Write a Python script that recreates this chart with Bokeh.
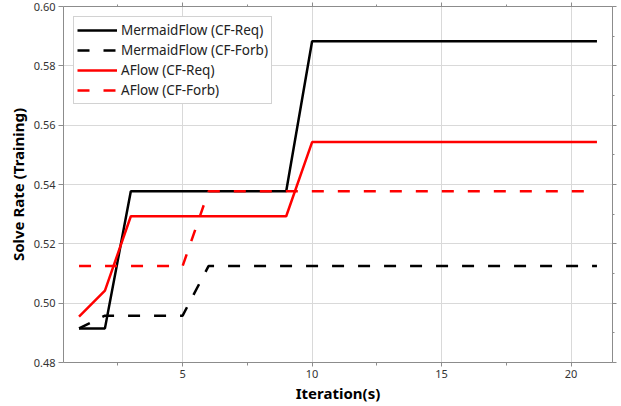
from bokeh.plotting import figure
from bokeh.models import (LinearAxis, SingleIntervalTicker, NumeralTickFormatter,
                          Range1d, Legend, LegendItem, CustomLabelingPolicy)
from bokeh.embed import file_html
from bokeh.resources import INLINE

# ---- data ----
mf_req_x = [1, 2, 3, 9, 10, 21]
mf_req_y = [0.4915, 0.4915, 0.5377, 0.5377, 0.5883, 0.5883]

mf_forb_x = [1, 2, 5, 6, 21]
mf_forb_y = [0.4915, 0.4958, 0.4958, 0.5125, 0.5125]

af_req_x = [1, 2, 3, 9, 10, 21]
af_req_y = [0.4955, 0.5042, 0.5293, 0.5293, 0.5543, 0.5543]

af_forb_x = [1, 5, 6, 21]
af_forb_y = [0.5125, 0.5125, 0.5377, 0.5377]

series_names = ["MermaidFlow (CF-Req)", "MermaidFlow (CF-Forb)",
                "AFlow (CF-Req)", "AFlow (CF-Forb)"]

x_label = "Iteration(s)"
y_label = "Solve Rate (Training)"

FONT = "Noto Sans"
AXIS_COL = "#8c8c8c"
GRID_COL = "#d9d9d9"

p = figure(frame_width=549, frame_height=356, output_backend="svg",
           toolbar_location=None,
           x_range=Range1d(0.4, 21.6), y_range=Range1d(0.48, 0.60),
           min_border_left=63, min_border_right=5, min_border_top=6,
           min_border_bottom=43)
p.outline_line_color = None
p.background_fill_color = "white"
p.border_fill_color = "white"

xt = SingleIntervalTicker(interval=5, num_minor_ticks=2)
yt = SingleIntervalTicker(interval=0.02, num_minor_ticks=2)

xa = p.xaxis[0]
xa.ticker = xt
xa.formatter = NumeralTickFormatter(format="0")
ya = p.yaxis[0]
ya.ticker = yt
ya.formatter = NumeralTickFormatter(format="0.00")

for ax in (xa, ya):
    ax.axis_line_color = AXIS_COL
    ax.major_tick_line_color = AXIS_COL
    ax.minor_tick_line_color = AXIS_COL
    ax.major_tick_in = 0
    ax.minor_tick_in = 0
    ax.major_label_text_font = FONT
    ax.major_label_text_font_size = "11px"
    ax.major_label_text_color = "#333333"
    ax.axis_label_text_font = FONT
    ax.axis_label_text_font_size = "15px"
    ax.axis_label_text_font_style = "bold"
    ax.axis_label_text_color = "black"

xa.axis_label = x_label
xa.major_tick_out = 4
xa.minor_tick_out = 3
xa.major_label_standoff = 3
xa.axis_label_standoff = 2

ya.axis_label = y_label
ya.major_tick_out = 5
ya.minor_tick_out = 0
ya.major_label_standoff = 3
ya.axis_label_standoff = 3

# mirrored axes (ticks only, no labels)
no_labels = CustomLabelingPolicy(code="""
for (const i of indices) { indices.unset(i) }
return indices
""")
top = LinearAxis(ticker=SingleIntervalTicker(interval=5, num_minor_ticks=2))
right = LinearAxis(ticker=SingleIntervalTicker(interval=0.02, num_minor_ticks=2))
for ax in (top, right):
    ax.axis_line_color = AXIS_COL
    ax.major_tick_line_color = AXIS_COL
    ax.minor_tick_line_color = AXIS_COL
    ax.major_tick_in = 0
    ax.minor_tick_in = 0
    ax.major_tick_out = 4
    ax.minor_tick_out = 2
    ax.major_label_policy = no_labels
    ax.major_label_text_font_size = "0px"
    ax.major_label_standoff = 0
p.add_layout(top, "above")
p.add_layout(right, "right")

p.xgrid.ticker = xt
p.ygrid.ticker = yt
p.xgrid.grid_line_color = GRID_COL
p.ygrid.grid_line_color = GRID_COL

LW = 2.5
DASH = "12 14"
r1 = p.line(mf_req_x, mf_req_y, line_color="black", line_width=LW)
r2 = p.line(mf_forb_x, mf_forb_y, line_color="black", line_width=LW, line_dash=DASH)
r3 = p.line(af_req_x, af_req_y, line_color="#ff0000", line_width=LW)
r4 = p.line(af_forb_x, af_forb_y, line_color="#ff0000", line_width=LW, line_dash=DASH)

legend = Legend(items=[LegendItem(label=n, renderers=[r]) for n, r in
                       zip(series_names, [r1, r2, r3, r4])],
                location="top_left")
legend.margin = 10
legend.padding = 3
legend.spacing = 0
legend.label_height = 20
legend.glyph_height = 20
legend.glyph_width = 40
legend.label_standoff = 4
legend.label_text_font = FONT
legend.label_text_font_size = "13.5px"
legend.label_text_color = "#222222"
legend.border_line_color = "#a6a6a6"
legend.border_line_width = 1
legend.background_fill_alpha = 1
p.add_layout(legend)

open("out.html", "w").write(file_html(p, INLINE))
